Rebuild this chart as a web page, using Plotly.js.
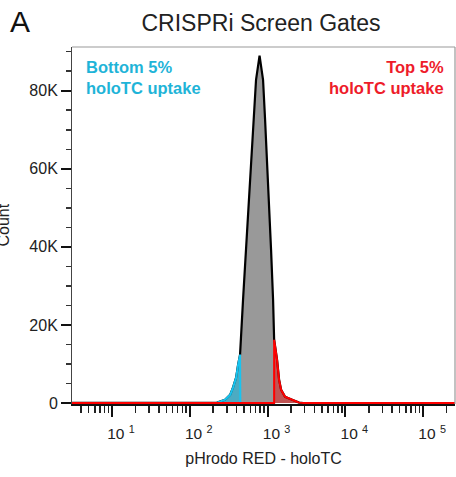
<!DOCTYPE html>
<html>
<head>
<meta charset="utf-8">
<script src="https://cdn.plot.ly/plotly-3.0.1.min.js"></script>
<style>html,body{margin:0;padding:0;background:#fff;}#chart{width:456px;height:477px;}</style>
</head>
<body>
<div id="chart"></div>
<script>
// ---- Data (pHrodo RED - holoTC intensity vs event count) ----
const totalX = [1, 150, 200, 224, 284, 330, 360, 394, 418, 443, 484, 529, 578, 623, 657, 711, 789, 875, 929, 985, 1045, 1109, 1177, 1215, 1324, 1406, 1493, 1679, 2065, 2541, 2900, 300000];
const totalY = [0, 0, 0, 100, 850, 2100, 4000, 6500, 9800, 12400, 26500, 39300, 52100, 62400, 72600, 82800, 89000, 82800, 72600, 62400, 52100, 39300, 26500, 16200, 11100, 6000, 3400, 1600, 850, 100, 0, 0];

const bottomX = [150, 200, 224, 284, 330, 360, 394, 418, 443, 447];
const bottomY = [0, 0, 100, 850, 2100, 4000, 6500, 9800, 12400, 0];

const topX = [1, 1215, 1215, 1324, 1406, 1493, 1679, 2065, 2541, 2900, 300000];
const topY = [0, 0, 16200, 11100, 6000, 3400, 1600, 850, 100, 0, 0];

const xTickVals = [10, 100, 1000, 10000, 100000];
const xTickText = ['10 <sup>1</sup>', '10 <sup>2</sup>', '10 <sup>3</sup>', '10 <sup>4</sup>', '10 <sup>5</sup>'];
const yTickVals = [0, 20000, 40000, 60000, 80000];
const yTickText = ['0', '20K', '40K', '60K', '80K'];

const FONT = 'Liberation Sans, Arial, sans-serif';

// minor log ticks (2..9 per decade)
const xMinor = [];
for (let d = 0; d <= 5; d++) {
  for (let m = 2; m <= 9; m++) xMinor.push(m * Math.pow(10, d));
}

const traces = [
  {x: totalX, y: totalY, type: 'scatter', mode: 'lines', fill: 'tozeroy',
   fillcolor: '#999999', line: {color: '#000000', width: 2.2}, hoverinfo: 'skip'},
  {x: bottomX, y: bottomY, type: 'scatter', mode: 'lines', fill: 'tozeroy',
   fillcolor: 'rgba(0,190,235,0.5)', line: {color: '#18c4f0', width: 2}, hoverinfo: 'skip'},
  {x: topX, y: topY, type: 'scatter', mode: 'lines', fill: 'tozeroy',
   fillcolor: 'rgba(240,0,0,0.45)', line: {color: '#ff0000', width: 2}, hoverinfo: 'skip'}
];

const layout = {
  width: 456, height: 477,
  margin: {l: 72, r: 1, t: 47, b: 73},
  paper_bgcolor: '#ffffff', plot_bgcolor: '#ffffff',
  showlegend: false,
  font: {family: FONT, color: '#222222'},
  title: {text: 'CRISPRi Screen Gates', font: {family: FONT, size: 23, color: '#222222'},
          x: 261/456, xanchor: 'center', xref: 'container', y: 1 - 23/477, yanchor: 'middle', yref: 'container'},
  xaxis: {
    type: 'log', range: [0.4855, 5.41],
    tickmode: 'array', tickvals: xTickVals, ticktext: xTickText,
    ticks: 'outside', ticklen: 11, tickwidth: 2, tickcolor: '#111111',
    ticklabelshift: 9, ticklabelstandoff: 4,
    tickfont: {family: FONT, size: 15.5, color: '#222222'},
    showline: true, linecolor: '#111111', linewidth: 1.5,
    showgrid: false, zeroline: false,
    minor: {tickmode: 'array', tickvals: xMinor, ticks: 'outside', ticklen: 7, tickwidth: 1.5, tickcolor: '#222222', showgrid: false},
    title: {text: 'pHrodo RED - holoTC', font: {family: FONT, size: 16, color: '#222222'}, standoff: 11}
  },
  yaxis: {
    range: [-250, 91200],
    tickmode: 'array', tickvals: yTickVals, ticktext: yTickText,
    ticks: 'outside', ticklen: 10, tickwidth: 2.2, tickcolor: '#111111',
    tickfont: {family: FONT, size: 16, color: '#222222'},
    showline: true, linecolor: '#444444', linewidth: 1,
    showgrid: false, zeroline: false,
    minor: {dtick: 5000, tick0: 0, ticks: 'outside', ticklen: 5, tickwidth: 1.5, tickcolor: '#333333', showgrid: false}
  },
  shapes: [
    {type: 'line', xref: 'paper', yref: 'paper', x0: 0, x1: 1, y0: 1, y1: 1, line: {color: '#999999', width: 1.2}},
    {type: 'line', xref: 'paper', yref: 'paper', x0: 1, x1: 1, y0: 0, y1: 1, line: {color: '#999999', width: 1.2}}
  ],
  annotations: [
    {text: 'A', xref: 'paper', yref: 'paper', x: (20 - 72) / 383, y: (404 - 21) / 357,
     xanchor: 'center', yanchor: 'middle', showarrow: false, font: {family: FONT, size: 30, color: '#111111'}},
    {text: '<b>Bottom 5%<br>holoTC uptake</b>', xref: 'paper', yref: 'paper', x: (84 - 72) / 383, y: (404 - 77) / 357,
     xanchor: 'left', yanchor: 'middle', align: 'left', showarrow: false, font: {family: FONT, size: 16.5, color: '#1fb4d8'}},
    {text: '<b>Top 5%<br>holoTC uptake</b>', xref: 'paper', yref: 'paper', x: (446 - 72) / 383, y: (404 - 77) / 357,
     xanchor: 'right', yanchor: 'middle', align: 'right', showarrow: false, font: {family: FONT, size: 16.5, color: '#ee1c2a'}},
    {text: 'Count', xref: 'paper', yref: 'paper', x: 0, y: 0.5, xshift: -69, textangle: -90,
     xanchor: 'center', yanchor: 'middle', showarrow: false, font: {family: FONT, size: 16, color: '#222222'}}
  ]
};

Plotly.newPlot('chart', traces, layout, {displayModeBar: false, staticPlot: true});
</script>
</body>
</html>
